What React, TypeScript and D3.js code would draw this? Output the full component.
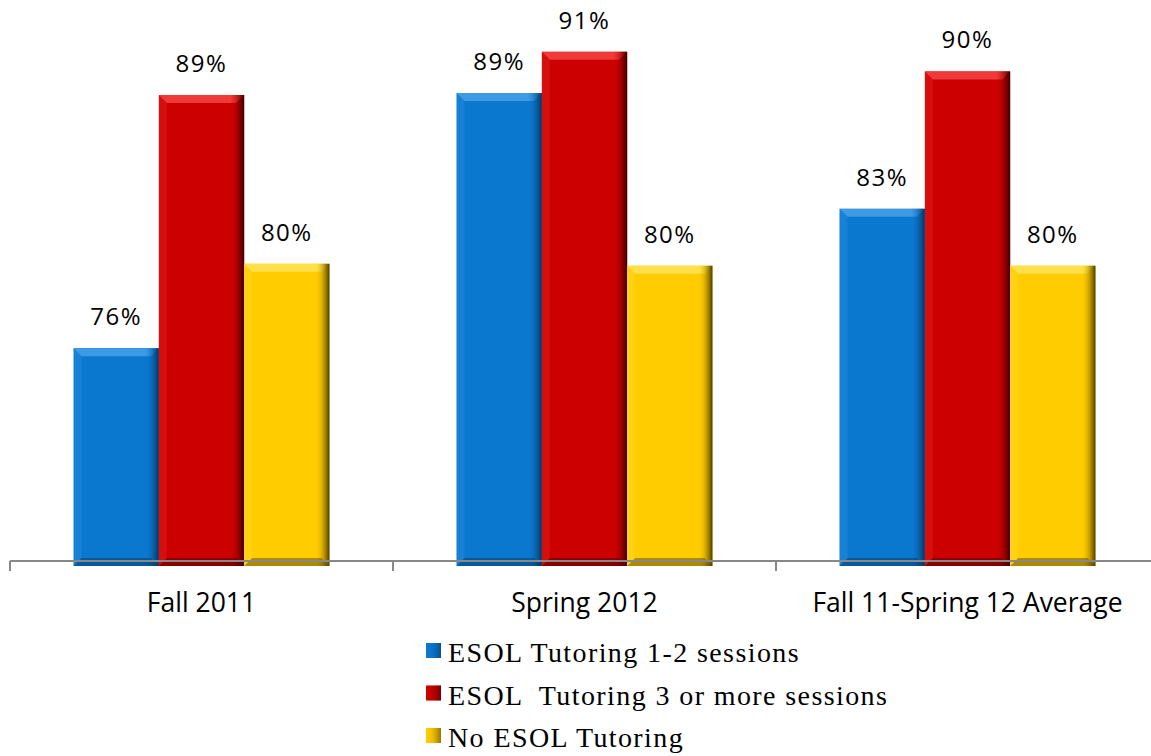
import React from "react";
import * as d3 from "d3";

const categories = ["Fall 2011", "Spring 2012", "Fall 11-Spring 12 Average"];
const seriesNames = ["ESOL Tutoring 1-2 sessions", "ESOL  Tutoring 3 or more sessions", "No ESOL Tutoring"];
const blueValues = [76.1, 89.1, 83.2];
const redValues = [89.0, 91.2, 90.2];
const yellowValues = [80.4, 80.3, 80.3];
const colors = ["#0B78D0", "#CC0000", "#FFCC00"];
const lightColors = ["#3D9BE6", "#F03A3A", "#FFE04A"];
const darkColors = ["#04345E", "#3A0000", "#4A3A00"];

const W = 1151, H = 756;

export default function App() {
  const series = [blueValues, redValues, yellowValues];
  const x0 = d3.scaleBand<string>().domain(categories).range([10, 1159]).paddingInner(0).paddingOuter(0);
  const inner = d3.scaleBand<number>().domain([0, 1, 2]).range([0, x0.bandwidth()]).paddingInner(0).paddingOuter(0.745);
  const y = d3.scaleLinear().domain([65, 89]).range([566, 95]);
  const axisY = 561;
  const bev = 8;

  return (
    <svg width={W} height={H} style={{ position: "absolute", left: 0, top: 0, background: "#fff" }}>
      <defs>
        {colors.map((c, i) => (
          <linearGradient key={i} id={`side${i}`} x1="0" x2="1" y1="0" y2="0">
            <stop offset="0" stopColor={colors[i]} stopOpacity="0" />
            <stop offset="1" stopColor={darkColors[i]} stopOpacity="1" />
          </linearGradient>
        ))}
      </defs>
      {categories.map((cat, ci) =>
        series.map((vals, si) => {
          const x = (x0(cat) as number) + (inner(si) as number);
          const w = inner.bandwidth();
          const top = y(vals[ci]);
          const bot = y(65);
          return (
            <g key={`${ci}-${si}`}>
              <rect x={x} y={top} width={w} height={bot - top} fill={colors[si]} />
              <polygon points={`${x},${top} ${x + w},${top} ${x + w - bev},${top + bev} ${x + bev},${top + bev}`} fill={lightColors[si]} />
              <rect x={x + w - 14} y={top} width={14} height={bot - top} fill={`url(#side${si})`} />
              <polygon points={`${x},${bot} ${x + w},${bot} ${x + w - bev},${bot - bev} ${x + bev},${bot - bev}`} fill={darkColors[si]} opacity={0.45} />
              <polygon points={`${x},${top} ${x + bev},${top + bev} ${x + bev},${bot - bev} ${x},${bot}`} fill={lightColors[si]} opacity={0.25} />
              <text x={x + w / 2} y={top - 23} textAnchor="middle" fontFamily="Open Sans, sans-serif" fontSize={24} letterSpacing={1.5} fill="#000">
                {`${Math.round(vals[ci])}%`}
              </text>
            </g>
          );
        })
      )}
      <line x1={10} x2={W} y1={axisY} y2={axisY} stroke="#888" strokeWidth={2} />
      {[0, 1, 2].map((i) => {
        const tx = (x0(categories[i]) as number);
        return <line key={i} x1={tx} x2={tx} y1={axisY} y2={axisY + 10} stroke="#888" strokeWidth={2} />;
      })}
      {categories.map((cat) => (
        <text key={cat} x={(x0(cat) as number) + x0.bandwidth() / 2} y={612} textAnchor="middle" fontFamily="Open Sans, sans-serif" fontSize={26.5} fill="#000">
          {cat}
        </text>
      ))}
      {seriesNames.map((name, i) => (
        <g key={name}>
          <rect x={426} y={643 + i * 42.5} width={15} height={15} fill={colors[i]} />
          <rect x={426} y={643 + i * 42.5} width={15} height={15} fill={`url(#side${i})`} opacity={0.6} />
          <text x={448} y={662 + i * 42.5} fontFamily="Liberation Serif, Times New Roman, serif" fontSize={28} letterSpacing={1.4} fill="#000" style={{ whiteSpace: "pre" }}>
            {name}
          </text>
        </g>
      ))}
    </svg>
  );
}
